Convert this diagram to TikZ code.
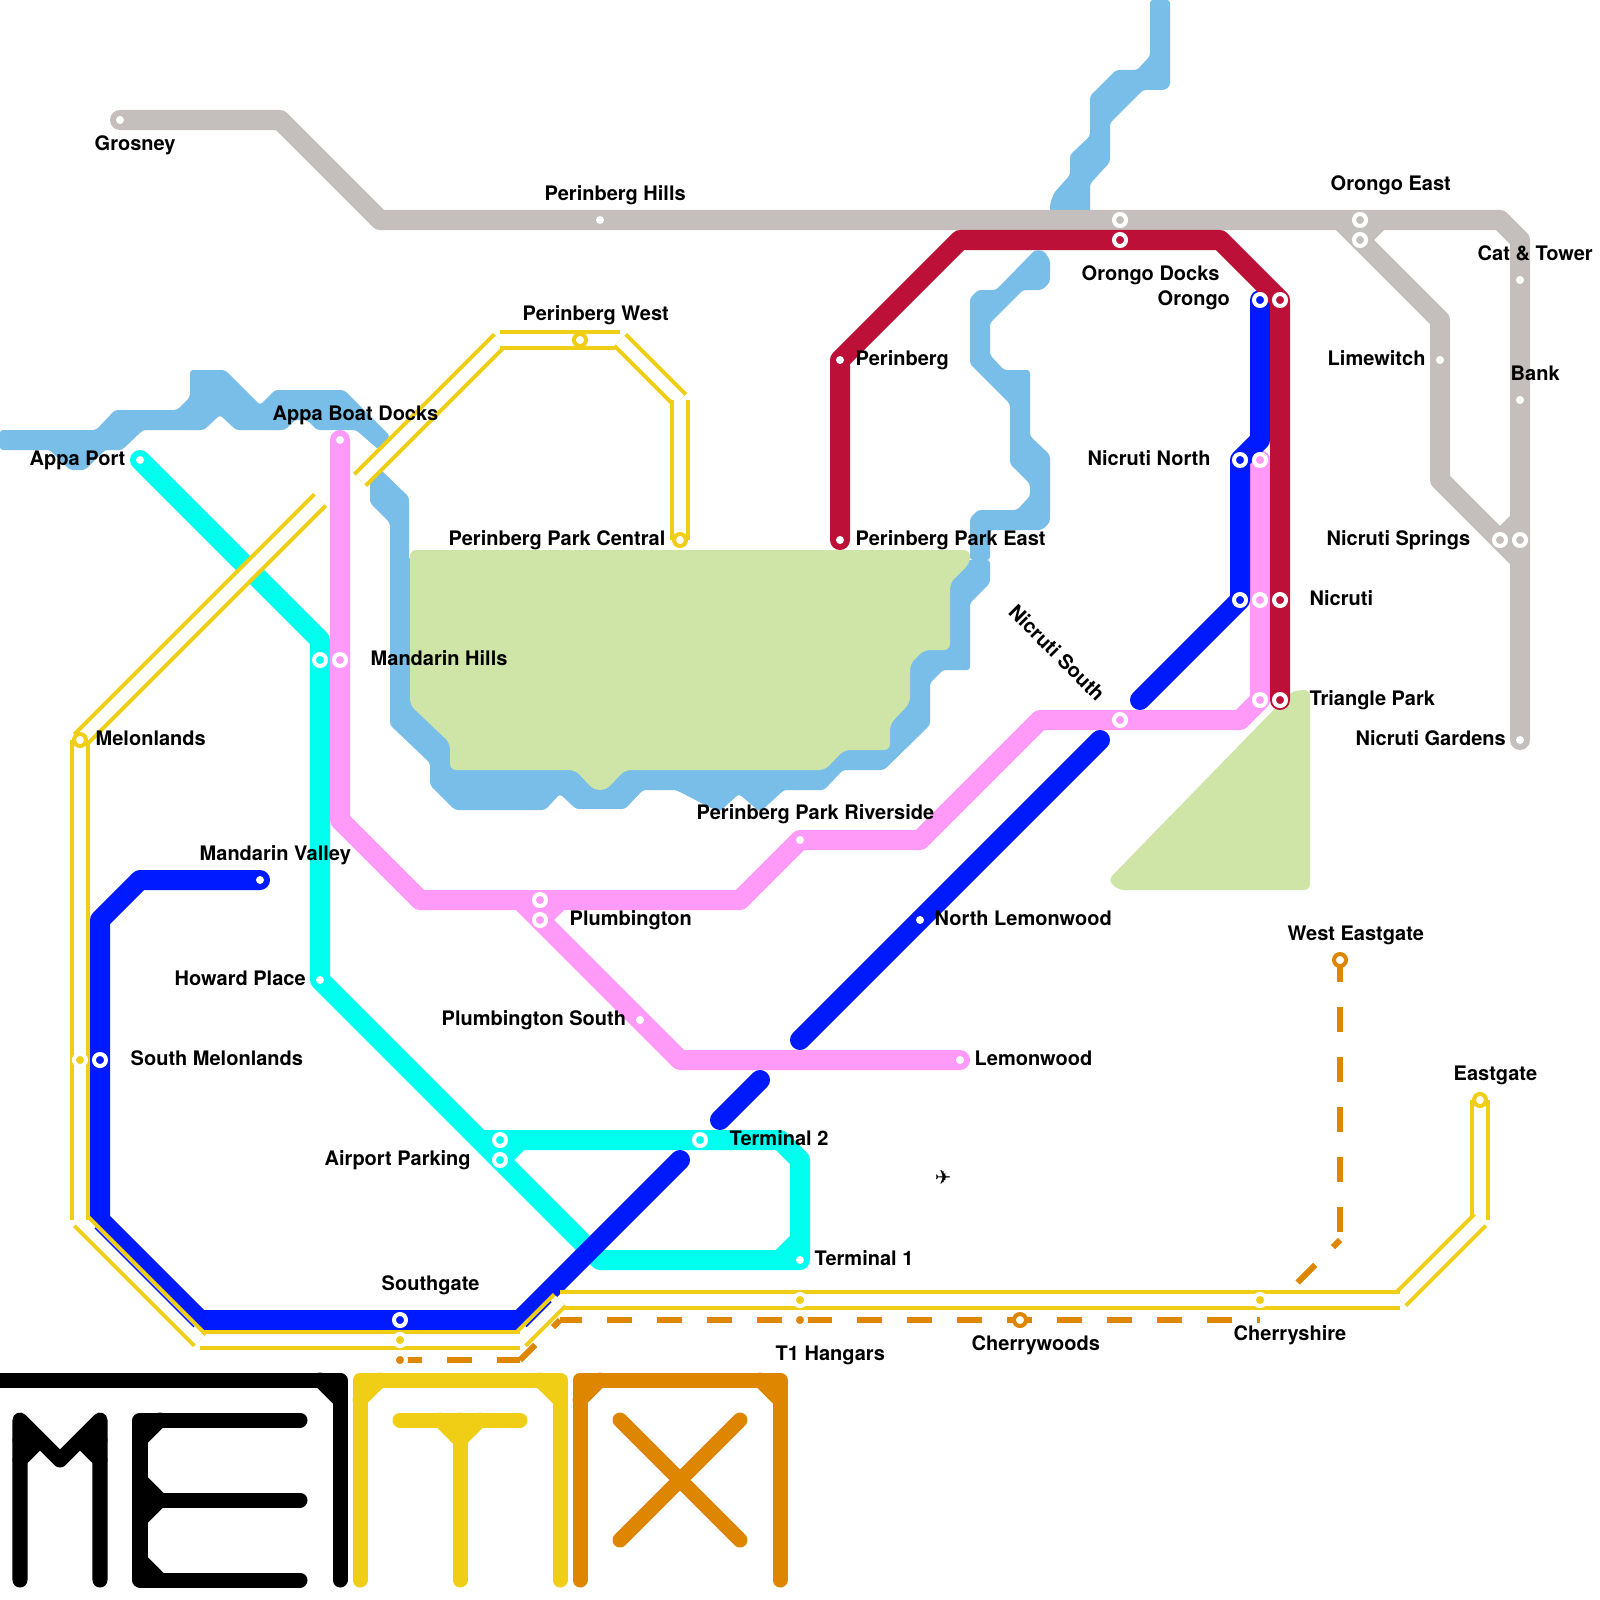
\documentclass[tikz,border=0pt]{standalone}
\usepackage{fontspec}
\setmainfont{TeX Gyre Heros}
\newfontfamily\planefont{DejaVu Sans}
\usetikzlibrary{calc}
\definecolor{myGrey}{HTML}{C4BFBD}
\definecolor{myRiver}{HTML}{79BDE9}
\definecolor{myPark}{HTML}{CFE4A7}
\definecolor{myCrimson}{HTML}{BD1038}
\definecolor{myBlue}{HTML}{001AFF}
\definecolor{myPink}{HTML}{FF9AF8}
\definecolor{myCyan}{HTML}{00FFEE}
\definecolor{myYellow}{HTML}{F0CE15}
\definecolor{myOrange}{HTML}{DF8600}

\begin{document}
\begin{tikzpicture}[
  x=0.01cm, y=-0.01cm,
  water/.style={fill=myRiver, rounded corners=0.03cm},
  park/.style={fill=myPark, rounded corners=0.06cm},
  metro/.style={line width=2mm, line cap=round, line join=round},
  rail/.style={draw=myYellow, double=white, line width=.4mm, double distance=1.2mm},
  ghost/.style={draw=myOrange, line width=.6mm, dash pattern=on 2.5mm off 2.5mm},
  logo/.style={line width=1.5mm, line cap=round, line join=round},
  ring/.style={circle, inner sep=0pt, minimum size=1.2mm, line width=.4mm},
  stopdot/.style={circle, inner sep=0pt, minimum size=.8mm, fill=white},
  stopname/.style={inner sep=0pt, anchor=base west, xshift=-.01cm, font=\bfseries\fontsize{5.69}{6.8}\selectfont},
]
  \useasboundingbox (0,0) rectangle (1600,1600);

  % stations
  \coordinate (grosney) at (120,120);
  \coordinate (hills) at (600,220);
  \coordinate (docksG) at (1120,220);
  \coordinate (eastA) at (1360,220);
  \coordinate (eastB) at (1360,240);
  \coordinate (cat) at (1520,280);
  \coordinate (bank) at (1520,400);
  \coordinate (lime) at (1440,360);
  \coordinate (springsA) at (1500,540);
  \coordinate (springsB) at (1520,540);
  \coordinate (gardens) at (1520,740);
  \coordinate (perinberg) at (840,360);
  \coordinate (parkEast) at (840,540);
  \coordinate (docksR) at (1120,240);
  \coordinate (orongoR) at (1280,300);
  \coordinate (nicrutiR) at (1280,600);
  \coordinate (triangleR) at (1280,700);
  \coordinate (orongoB) at (1260,300);
  \coordinate (northB) at (1240,460);
  \coordinate (nicrutiB) at (1240,600);
  \coordinate (lemonB) at (920,920);
  \coordinate (valley) at (260,880);
  \coordinate (melonB) at (100,1060);
  \coordinate (southB) at (400,1320);
  \coordinate (boat) at (340,440);
  \coordinate (hillsP) at (340,660);
  \coordinate (plumbA) at (540,900);
  \coordinate (plumbB) at (540,920);
  \coordinate (plumbS) at (640,1020);
  \coordinate (lemon) at (960,1060);
  \coordinate (riverside) at (800,840);
  \coordinate (nsouth) at (1120,720);
  \coordinate (northP) at (1260,460);
  \coordinate (nicrutiP) at (1260,600);
  \coordinate (triangleP) at (1260,700);
  \coordinate (appa) at (140,460);
  \coordinate (hillsC) at (320,660);
  \coordinate (howard) at (320,980);
  \coordinate (airportA) at (500,1140);
  \coordinate (airportB) at (500,1160);
  \coordinate (term2) at (700,1140);
  \coordinate (term1) at (800,1260);
  \coordinate (west) at (580,340);
  \coordinate (central) at (680,540);
  \coordinate (melon) at (80,740);
  \coordinate (melonS) at (80,1060);
  \coordinate (southY) at (400,1340);
  \coordinate (hangarY) at (800,1300);
  \coordinate (shire) at (1260,1300);
  \coordinate (eastgate) at (1480,1100);
  \coordinate (wgate) at (1340,960);
  \coordinate (cherry) at (1020,1320);
  \coordinate (hangar) at (800,1320);
  \coordinate (southO) at (400,1360);

  % rail bends
  \coordinate (ya) at (1480,1220);
  \coordinate (yb) at (1400,1300);
  \coordinate (yc) at (560,1300);
  \coordinate (yd) at (520,1340);
  \coordinate (ye) at (200,1340);
  \coordinate (yf) at (80,1220);
  \coordinate (yg) at (320,500);
  \coordinate (yh) at (360,480);
  \coordinate (yi) at (500,340);
  \coordinate (yj) at (620,340);
  \coordinate (yk) at (680,400);

  % river and parks
  \path[water] (0,430) -- (96,430) -- (115,410) -- (177,410) -- (190,397) -- (190,370) -- (225,370) -- (260,405) -- (275,390) -- (344,390) -- (390,436) -- (379,450) -- (356,430) -- (317,430) -- (307,420) -- (295,420) -- (285,430) -- (236,430) -- (220,415) -- (204,430) -- (143,430) -- (122,450) -- (105,450) -- (85,470) -- (70,470) -- (50,450) -- (0,450) -- cycle;
  \path[water] (1150,0) -- (1170,0) -- (1170,86) -- (1165,90) -- (1143,90) -- (1110,123) -- (1110,162) -- (1090,184) -- (1090,215) -- (1050,215) -- (1050,204) -- (1054,193) -- (1070,175) -- (1070,155) -- (1090,136) -- (1090,96) -- (1116,70) -- (1137,70) -- (1150,56) -- cycle;
  \path[water] (381,470) -- (409,497) -- (409,560) -- (990,560) -- (990,530) -- (1042,530) -- (1050,522) -- (1050,455) -- (1030,436) -- (1030,370) -- (1004,370) -- (990,355) -- (990,323) -- (1023,290) -- (1042,290) -- (1050,282) -- (1050,260) -- (1044,251) -- (1035,250) -- (996,290) -- (978,290) -- (970,298) -- (970,364) -- (1010,404) -- (1010,464) -- (1030,484) -- (1030,496) -- (1017,510) -- (978,510) -- (970,518) -- (970,560) -- (990,560) -- (990,583) -- (970,603) -- (970,670) -- (943,670) -- (930,683) -- (930,725) -- (884,770) -- (843,770) -- (824,790) -- (784,790) -- (760,812) -- (739,794) -- (719,812) -- (676,790) -- (643,790) -- (625,809) -- (576,809) -- (560,794) -- (545,810) -- (455,810) -- (430,785) -- (430,763) -- (390,725) -- (390,523) -- (370,503) -- (370,477) -- cycle;
  \path[park] (410,550) -- (970,550) -- (970,563) -- (950,583) -- (950,650) -- (924,650) -- (910,664) -- (910,703) -- (890,724) -- (890,750) -- (844,750) -- (825,770) -- (625,770) -- (606,790) -- (594,790) -- (575,770) -- (450,770) -- (450,743) -- (410,705) -- cycle;
  \path[park] (1291,692) -- (1300,690) -- (1310,690) -- (1310,890) -- (1118,890) -- (1108,880) -- cycle;

  % lines
  \draw[metro, myGrey] (grosney) -- (280,120) -- (380,220) -- (1500,220) -- (1520,240) -- (gardens);
  \draw[metro, myGrey] (1340,220) -- (1440,320) -- (1440,480) -- (1520,560);
  \draw[metro, myGrey] (eastB) -- (1380,220);
  \draw[metro, myGrey] (springsA) -- (1520,520);
  \draw[metro, myCyan] (appa) -- (320,640) -- (howard) -- (600,1260) -- (term1) -- (800,1160) -- (780,1140) -- (480,1140);
  \draw[metro, myCyan] (780,1260) -- (800,1240);
  \draw[metro, myCyan] (airportB) -- (520,1140);
  \draw[metro, myPink] (boat) -- (340,820) -- (420,900) -- (740,900) -- (riverside) -- (920,840) -- (1040,720) -- (1240,720) -- (triangleP) -- (northP);
  \draw[metro, myPink] (520,900) -- (680,1060) -- (lemon);
  \draw[metro, myPink] (plumbB) -- (560,900);
  \draw[metro, myBlue] (valley) -- (140,880) -- (100,920) -- (100,1220) -- (200,1320) -- (520,1320) -- (680,1160);
  \draw[metro, myBlue] (720,1120) -- (760,1080);
  \draw[metro, myBlue] (800,1040) -- (1100,740);
  \draw[metro, myBlue] (1140,700) -- (nicrutiB) -- (northB) -- (1260,440) -- (orongoB);
  \draw[metro, myCrimson] (triangleR) -- (orongoR) -- (1220,240) -- (960,240) -- (perinberg) -- (parkEast);

  % cherrywoods line
  \draw[ghost, dash phase=.3mm] (wgate) -- (1340,1240);
  \draw[ghost, dash phase=1.5mm] (1340,1240) -- (1280,1300);
  \draw[ghost, dash phase=2.2mm] (1260,1320) -- (560,1320);
  \draw[ghost, dash phase=1.5mm] (560,1320) -- (520,1360);
  \draw[ghost, dash phase=.2mm] (520,1360) -- (southO);

  % yellow line
  \foreach \a/\b in {eastgate/ya, ya/yb, yb/yc, yc/yd, yd/ye, ye/yf, yf/melon, melon/yg, yh/yi, yi/yj, yj/yk, yk/central}
    \draw[rail] (\a) -- (\b);
  \draw[myBlue, line width=.15mm] (95,1227.8) -- (194,1326.8);
  \draw[myBlue, line width=.15mm] (526,1326.7) -- (551,1301.7);

  % station marks
  \foreach \s in {grosney, hills, cat, bank, lime, gardens, perinberg, parkEast, lemonB, valley, boat, plumbS, lemon, riverside, appa, howard, term1}
    \node[stopdot] (dot-\s) at (\s) {};
  \foreach \s in {docksG, eastA, eastB, springsA, springsB}
    \node[ring, draw=white, fill=myGrey] (ring-\s) at (\s) {};
  \foreach \s in {docksR, orongoR, nicrutiR, triangleR}
    \node[ring, draw=white, fill=myCrimson] (ring-\s) at (\s) {};
  \foreach \s in {orongoB, northB, nicrutiB, melonB, southB}
    \node[ring, draw=white, fill=myBlue] (ring-\s) at (\s) {};
  \foreach \s in {hillsP, plumbA, plumbB, nsouth, northP, nicrutiP, triangleP}
    \node[ring, draw=white, fill=myPink] (ring-\s) at (\s) {};
  \foreach \s in {hillsC, airportA, airportB, term2}
    \node[ring, draw=white, fill=myCyan] (ring-\s) at (\s) {};
  \foreach \s in {melonS, southY, hangarY, shire}
    \node[ring, draw=white, fill=myYellow] (ring-\s) at (\s) {};
  \foreach \s in {west, central, melon, eastgate}
    \node[ring, draw=myYellow, fill=white] (ring-\s) at (\s) {};
  \foreach \s in {wgate, cherry}
    \node[ring, draw=myOrange, fill=white] (ring-\s) at (\s) {};
  \foreach \s in {hangar, southO}
    \node[ring, draw=white, fill=myOrange] (ring-\s) at (\s) {};

  % labels
  \node[stopname] (l-grosney) at (95,150) {Grosney};
  \node[stopname] (l-hills) at (545,200) {Perinberg Hills};
  \node[stopname] (l-east) at (1331,191) {Orongo East};
  \node[stopname] (l-cat) at (1478,260) {Cat \& Tower};
  \node[stopname] (l-docks) at (1082,280) {Orongo Docks};
  \node[stopname] (l-orongo) at (1158,305) {Orongo};
  \node[stopname] (l-west) at (523,320) {Perinberg West};
  \node[stopname] (l-perinberg) at (856,365) {Perinberg};
  \node[stopname] (l-lime) at (1328,365) {Limewitch};
  \node[stopname] (l-bank) at (1511,380) {Bank};
  \node[stopname] (l-boat) at (273,420) {Appa Boat Docks};
  \node[stopname] (l-appa) at (30,465) {Appa Port};
  \node[stopname] (l-north) at (1088,465) {Nicruti North};
  \node[stopname] (l-central) at (449,545) {Perinberg Park Central};
  \node[stopname] (l-parkeast) at (856,545) {Perinberg Park East};
  \node[stopname] (l-springs) at (1327,545) {Nicruti Springs};
  \node[stopname] (l-nicruti) at (1310,605) {Nicruti};
  \node[stopname] (l-hillsm) at (371,665) {Mandarin Hills};
  \node[stopname, anchor=center, rotate=-45] (l-nsouth) at (1058,653) {Nicruti South};
  \node[stopname] (l-triangle) at (1310,705) {Triangle Park};
  \node[stopname] (l-melon) at (96,745) {Melonlands};
  \node[stopname] (l-gardens) at (1356,745) {Nicruti Gardens};
  \node[stopname] (l-riverside) at (697,819) {Perinberg Park Riverside};
  \node[stopname] (l-valley) at (200,860) {Mandarin Valley};
  \node[stopname] (l-plumb) at (570,925) {Plumbington};
  \node[stopname] (l-lemonn) at (935,925) {North Lemonwood};
  \node[stopname] (l-wgate) at (1288,940) {West Eastgate};
  \node[stopname] (l-howard) at (175,985) {Howard Place};
  \node[stopname] (l-plumbs) at (442,1025) {Plumbington South};
  \node[stopname] (l-melons) at (131,1065) {South Melonlands};
  \node[stopname] (l-lemon) at (975,1065) {Lemonwood};
  \node[stopname] (l-eastgate) at (1454,1080) {Eastgate};
  \node[stopname] (l-term2) at (730,1145) {Terminal 2};
  \node[stopname] (l-airport) at (325,1165) {Airport Parking};
  \node[stopname] (l-term1) at (815,1265) {Terminal 1};
  \node[stopname] (l-south) at (382,1290) {Southgate};
  \node[stopname] (l-shire) at (1234,1340) {Cherryshire};
  \node[stopname] (l-cherry) at (972,1350) {Cherrywoods};
  \node[stopname] (l-hangar) at (776,1360) {T1 Hangars};
  \node[inner sep=0pt, font=\planefont\fontsize{5.6}{6}\selectfont] (l-plane) at (943,1178) {✈};

  % logo
  \draw[logo, black] (-10,1380) -- (340,1380) -- (340,1580);
  \draw[logo, black] (320,1380) -- (340,1400);
  \draw[logo, black] (20,1580) -- (20,1420) -- (60,1460) -- (100,1420) -- (100,1580);
  \draw[logo, black] (20,1460) -- (40,1440) -- (20,1440);
  \draw[logo, black] (100,1460) -- (80,1440) -- (100,1440);
  \draw[logo, black] (300,1420) -- (140,1420) -- (140,1580) -- (300,1580);
  \draw[logo, black] (140,1500) -- (300,1500);
  \draw[logo, black] (140,1440) -- (160,1420);
  \draw[logo, black] (140,1480) -- (160,1500) -- (140,1520);
  \draw[logo, black] (140,1560) -- (160,1580);
  \draw[logo, myYellow] (360,1580) -- (360,1380) -- (560,1380) -- (560,1580);
  \draw[logo, myYellow] (360,1400) -- (380,1380);
  \draw[logo, myYellow] (540,1380) -- (560,1400);
  \draw[logo, myYellow] (400,1420) -- (520,1420);
  \draw[logo, myYellow] (460,1420) -- (460,1580);
  \draw[logo, myYellow] (440,1420) -- (460,1440) -- (480,1420);
  \draw[logo, myOrange] (580,1580) -- (580,1380) -- (780,1380) -- (780,1580);
  \draw[logo, myOrange] (580,1400) -- (600,1380);
  \draw[logo, myOrange] (760,1380) -- (780,1400);
  \draw[logo, myOrange] (620,1420) -- (740,1540);
  \draw[logo, myOrange] (740,1420) -- (620,1540);
\end{tikzpicture}
\end{document}
